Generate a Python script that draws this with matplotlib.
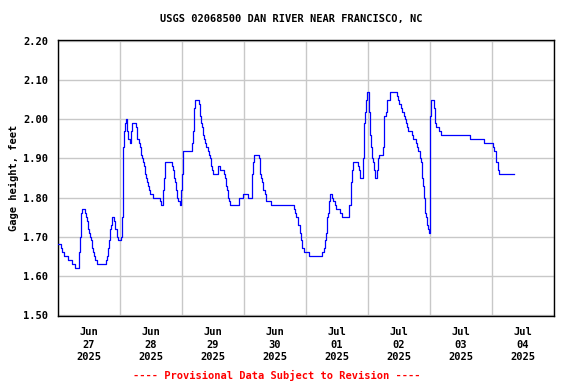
import matplotlib
matplotlib.use("Agg")
import matplotlib.pyplot as plt
import numpy as np

title = "USGS 02068500 DAN RIVER NEAR FRANCISCO, NC"
ylabel = "Gage height, feet"
footer = "---- Provisional Data Subject to Revision ----"

# hours since 2025-06-27 00:00 and gage height (ft)
hours = [0.0, 1.0, 1.7, 2.3, 3.9, 5.5, 6.6, 8.3, 8.6, 8.9, 9.3, 10.5, 10.8, 11.2, 11.6, 12.0,
         12.4, 12.8, 13.2, 13.5, 13.9, 14.3, 15.1, 18.7, 19.1, 19.5, 19.9, 20.3, 20.6, 20.9,
         21.7, 22.1, 22.8, 23.2, 24.3, 24.8, 25.2, 25.5, 25.9, 26.3, 26.6, 26.8, 27.1, 27.7,
         28.1, 28.4, 28.8, 30.0, 30.4, 31.2, 31.6, 32.1, 32.5, 32.8, 33.2, 33.7, 34.1, 34.4,
         34.8, 35.2, 35.6, 36.8, 39.1, 39.5, 39.9, 40.8, 41.2, 41.5, 44.2, 44.6, 45.0, 45.4,
         45.8, 46.2, 46.6, 47.4, 47.7, 48.1, 48.5, 52.0, 52.4, 52.6, 53.0, 54.4, 54.8, 55.1,
         55.5, 55.9, 56.3, 56.6, 57.0, 57.4, 58.2, 58.6, 59.0, 59.4, 59.7, 60.1, 62.1, 62.8,
         64.4, 64.8, 65.1, 65.5, 65.9, 66.3, 66.7, 70.2, 71.7, 73.5, 75.0, 75.2, 75.6, 75.9,
         77.7, 78.1, 78.3, 78.7, 79.0, 79.4, 80.0, 80.4, 80.6, 82.3, 91.2, 91.7, 92.3, 92.9,
         93.5, 93.9, 94.6, 95.1, 97.0, 102.3, 103.0, 103.5, 103.9, 104.3, 104.6, 105.0, 105.4,
         105.9, 106.6, 107.1, 107.5, 109.2, 110.1, 112.5, 113.5, 113.9, 114.3, 116.1, 116.5,
         116.8, 117.9, 118.3, 118.8, 119.2, 119.6, 120.3, 120.6, 121.0, 121.4, 121.8, 122.2,
         122.6, 123.6, 124.0, 124.4, 125.7, 126.1, 126.3, 126.8, 127.5, 128.4, 131.2, 131.6,
         132.0, 132.9, 133.3, 133.8, 134.3, 134.8, 135.2, 135.6, 136.9, 137.5, 138.7, 139.1,
         139.5, 140.0, 140.4, 140.8, 141.2, 141.5, 142.1, 142.4, 142.8, 143.2, 143.5, 143.9,
         144.1, 144.5, 145.5, 145.9, 146.1, 146.5, 147.5, 148.4, 159.3, 164.9, 168.4, 168.9,
         169.7, 170.2, 170.6, 171.0, 176.5]
stage = [1.68, 1.67, 1.66, 1.65, 1.64, 1.63, 1.62, 1.66, 1.70, 1.76, 1.77, 1.76, 1.75, 1.74, 1.72, 1.71,
         1.70, 1.69, 1.67, 1.66, 1.65, 1.64, 1.63, 1.64, 1.65, 1.67, 1.69, 1.72, 1.73, 1.75,
         1.74, 1.72, 1.70, 1.69, 1.70, 1.75, 1.93, 1.97, 1.99, 2.00, 1.99, 1.97, 1.95, 1.94,
         1.96, 1.97, 1.99, 1.98, 1.95, 1.94, 1.93, 1.91, 1.90, 1.89, 1.88, 1.86, 1.85, 1.84,
         1.83, 1.82, 1.81, 1.80, 1.80, 1.79, 1.78, 1.82, 1.85, 1.89, 1.88, 1.87, 1.85, 1.84,
         1.82, 1.80, 1.79, 1.78, 1.82, 1.86, 1.92, 1.94, 1.97, 2.03, 2.05, 2.04, 2.02, 2.01,
         1.99, 1.98, 1.96, 1.95, 1.94, 1.93, 1.92, 1.91, 1.90, 1.88, 1.87, 1.86, 1.88, 1.87,
         1.86, 1.85, 1.83, 1.82, 1.80, 1.79, 1.78, 1.80, 1.81, 1.80, 1.81, 1.86, 1.89, 1.91,
         1.90, 1.89, 1.86, 1.85, 1.84, 1.82, 1.81, 1.80, 1.79, 1.78, 1.77, 1.76, 1.75, 1.73,
         1.71, 1.69, 1.67, 1.66, 1.65, 1.66, 1.67, 1.69, 1.71, 1.75, 1.76, 1.79, 1.81,
         1.80, 1.79, 1.78, 1.77, 1.76, 1.75, 1.78, 1.84, 1.87, 1.89, 1.88, 1.87,
         1.85, 1.90, 1.99, 2.02, 2.05, 2.07, 2.02, 1.96, 1.93, 1.90, 1.89, 1.87,
         1.85, 1.87, 1.90, 1.91, 1.93, 1.96, 2.01, 2.02, 2.05, 2.07, 2.06, 2.05,
         2.04, 2.03, 2.02, 2.01, 2.00, 1.99, 1.98, 1.97, 1.96, 1.95, 1.94, 1.93,
         1.92, 1.90, 1.89, 1.85, 1.83, 1.80, 1.76, 1.75, 1.73, 1.72, 1.71, 1.76,
         2.01, 2.05, 2.03, 2.02, 1.99, 1.98, 1.97, 1.96, 1.95, 1.94, 1.93, 1.92,
         1.89, 1.87, 1.86, 1.86, 1.86]

day_months = ["Jun", "Jun", "Jun", "Jun", "Jul", "Jul", "Jul", "Jul"]
day_nums = ["27", "28", "29", "30", "01", "02", "03", "04"]
day_year = "2025"
yticks = [1.50, 1.60, 1.70, 1.80, 1.90, 2.00, 2.10, 2.20]

font = "DejaVu Sans Mono"
plt.rcParams["font.family"] = [font]

fig = plt.figure(figsize=(5.76, 3.84), dpi=100)
ax = fig.add_axes([58 / 576, 1 - 316 / 384, 496 / 576, 276 / 384])

ax.plot(hours, stage, color="#0000ff", lw=0.9, drawstyle="steps-post", zorder=3)

ax.set_xlim(0, 24 * len(day_nums))
ax.set_ylim(1.4965, 2.2035)

ax.set_xticks(np.arange(0, 24 * len(day_nums) + 1, 24))
ax.set_xticklabels([])
ax.set_xticks(np.arange(12, 24 * len(day_nums), 24), minor=True)
ax.set_xticklabels([f"{m}\n{d}\n{day_year}" for m, d in zip(day_months, day_nums)],
                   minor=True, fontsize=7.5, fontweight="bold", linespacing=1.3)
ax.set_yticks(yticks)
ax.set_yticklabels([f"{v:.2f}" for v in yticks], fontsize=7.5, fontweight="bold")
ax.tick_params(axis="both", which="both", length=0)
ax.tick_params(axis="x", which="minor", pad=8)
ax.tick_params(axis="y", pad=7)

ax.grid(True, which="major", color="#c8c8c8", lw=1.0, zorder=0)
for s in ax.spines.values():
    s.set_color("black")
    s.set_linewidth(1.0)

ax.set_ylabel(ylabel, fontsize=7.5, fontweight="bold", labelpad=3)

fig.text(291 / 576, 1 - 19 / 384, title, ha="center", va="center",
         fontsize=7.5, fontweight="bold")
fig.text(277 / 576, 1 - 375 / 384, footer, ha="center", va="center",
         fontsize=7.5, fontweight="bold", color="#ff0000")

fig.savefig("out.png", dpi=100)
